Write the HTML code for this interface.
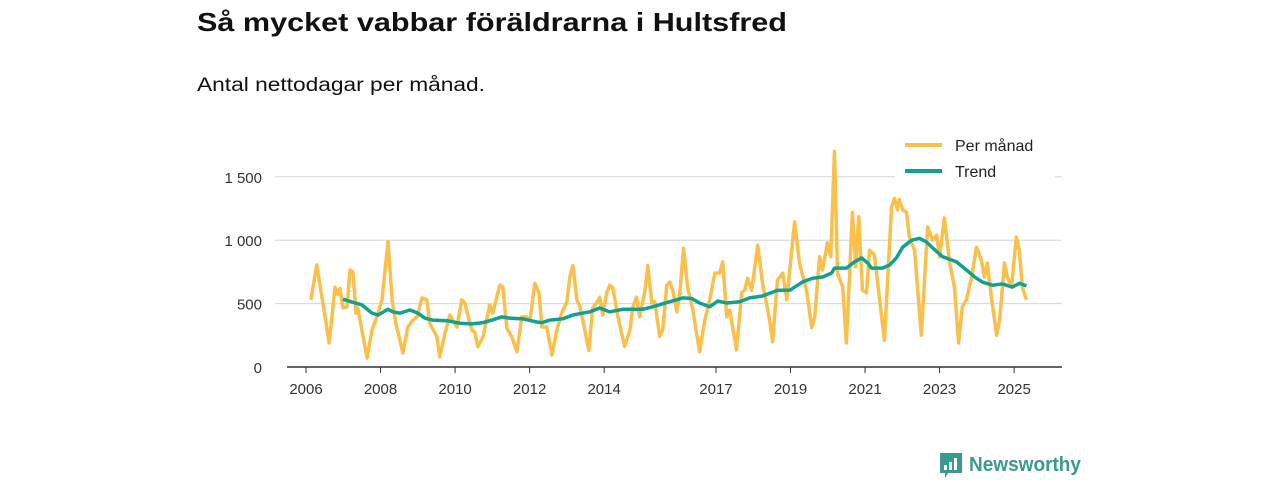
<!DOCTYPE html>
<html><head><meta charset="utf-8"><style>
html,body{margin:0;padding:0;background:#fff;}
svg{display:block;font-family:"Liberation Sans",sans-serif;}
</style></head><body>
<svg id="chart" width="1280" height="480" viewBox="0 0 1280 480">
<text x="197" y="31" font-size="26" font-weight="bold" fill="#111" textLength="590" lengthAdjust="spacingAndGlyphs">Så mycket vabbar föräldrarna i Hultsfred</text>
<text x="197" y="91" font-size="19" fill="#111" textLength="288" lengthAdjust="spacingAndGlyphs">Antal nettodagar per månad.</text>
<g id="grid"></g>
<g id="series"></g>
<g id="axes"></g>
<g>
<rect x="895" y="130" width="160" height="55" fill="#fff"/>
<line x1="905" y1="145" x2="942" y2="145" stroke="#f9c04c" stroke-width="4"/>
<text x="955" y="151" font-size="16" fill="#222">Per månad</text>
<line x1="905" y1="171" x2="942" y2="171" stroke="#13a091" stroke-width="4"/>
<text x="955" y="177" font-size="16" fill="#222">Trend</text>
</g>
<g>
<path d="M940 453 h22 v20 h-14 l-3 5 v-5 h-5 z" fill="#3a9a8c"/>
<rect x="944" y="465" width="3" height="5" fill="#fff"/>
<rect x="949" y="462" width="3" height="8" fill="#fff"/>
<rect x="954" y="458" width="3" height="12" fill="#fff"/>
<text x="969" y="471" font-size="20" font-weight="bold" fill="#3a9a8c" textLength="112" lengthAdjust="spacingAndGlyphs">Newsworthy</text>
</g>
</svg>
<script>
const yTicks=[0,500,1000,1500];
const yTickLabels=["0","500","1 000","1 500"];
const xTicks=[2006,2008,2010,2012,2014,2017,2019,2021,2023,2025];
const monthDates=[2006.13,2006.29,2006.62,2006.78,2006.86,2006.91,2006.99,2007.10,2007.18,2007.26,2007.34,2007.39,2007.50,2007.64,2007.77,2007.90,2008.04,2008.20,2008.31,2008.41,2008.60,2008.73,2008.87,2008.98,2009.11,2009.24,2009.32,2009.51,2009.59,2009.73,2009.86,2009.94,2010.05,2010.18,2010.26,2010.45,2010.53,2010.61,2010.75,2010.93,2011.01,2011.20,2011.28,2011.39,2011.52,2011.66,2011.79,2011.92,2012.01,2012.14,2012.25,2012.33,2012.46,2012.60,2012.73,2012.86,2013.00,2013.08,2013.16,2013.27,2013.35,2013.48,2013.59,2013.69,2013.80,2013.88,2013.96,2014.07,2014.15,2014.23,2014.37,2014.55,2014.69,2014.77,2014.87,2014.95,2015.09,2015.17,2015.28,2015.36,2015.49,2015.57,2015.68,2015.76,2015.84,2015.95,2016.03,2016.13,2016.24,2016.38,2016.56,2016.70,2016.83,2016.97,2017.10,2017.18,2017.29,2017.37,2017.55,2017.69,2017.77,2017.85,2017.96,2018.12,2018.25,2018.44,2018.52,2018.65,2018.79,2018.90,2019.11,2019.24,2019.43,2019.57,2019.65,2019.78,2019.86,2019.99,2020.08,2020.18,2020.26,2020.40,2020.50,2020.66,2020.75,2020.83,2020.93,2021.04,2021.12,2021.25,2021.33,2021.52,2021.71,2021.79,2021.87,2021.92,2022.01,2022.11,2022.19,2022.33,2022.51,2022.68,2022.81,2022.92,2023.00,2023.13,2023.27,2023.40,2023.51,2023.61,2023.72,2023.86,2023.99,2024.12,2024.20,2024.28,2024.39,2024.53,2024.61,2024.74,2024.82,2024.93,2025.06,2025.14,2025.22,2025.33];
const monthValues=[530,805,190,630,570,620,465,475,765,750,425,465,290,70,290,395,530,990,530,345,110,315,370,395,545,530,345,240,80,270,410,370,315,530,505,290,275,160,235,490,425,645,630,305,240,120,395,395,370,660,585,315,315,95,290,425,515,710,800,530,475,290,130,465,505,550,410,585,645,625,395,160,290,475,550,395,590,800,505,515,240,290,645,670,605,435,585,935,625,450,120,370,530,740,740,830,395,450,135,585,605,700,605,960,660,370,200,685,740,530,1145,820,605,310,395,870,765,980,870,1700,740,630,190,1220,790,1185,605,585,920,885,685,210,1260,1330,1240,1320,1240,1220,1025,920,250,1105,1000,1040,870,1175,820,625,190,475,530,710,945,845,710,820,550,250,370,820,710,630,1025,920,630,530];
const trendDates=[2006.99,2007.26,2007.50,2007.77,2007.93,2008.20,2008.33,2008.52,2008.79,2009.00,2009.19,2009.40,2009.78,2010.13,2010.45,2010.75,2010.99,2011.25,2011.47,2011.82,2012.19,2012.33,2012.54,2012.89,2013.16,2013.61,2013.88,2014.15,2014.50,2015.03,2015.30,2015.76,2016.11,2016.35,2016.56,2016.83,2017.05,2017.29,2017.64,2017.90,2018.25,2018.65,2018.98,2019.32,2019.59,2019.86,2020.10,2020.18,2020.50,2020.72,2020.91,2021.07,2021.17,2021.47,2021.66,2021.84,2022.01,2022.25,2022.46,2022.65,2022.81,2023.08,2023.45,2023.72,2023.94,2024.15,2024.42,2024.69,2024.95,2025.14,2025.33];
const trendValues=[535,510,490,425,410,455,435,425,450,425,385,370,365,345,340,350,370,395,385,380,355,350,370,380,410,435,465,435,455,455,475,515,545,540,505,475,520,505,515,545,560,605,605,670,700,710,740,780,780,830,860,820,780,780,805,860,945,1000,1015,985,940,870,830,765,710,670,645,655,630,660,640];
const NS="http://www.w3.org/2000/svg";
const x0=306,pxPerYear=37.27,yBase=367,pxPerUnit=0.1268;
function xs(t){return x0+(t-2006)*pxPerYear;}
function ys(v){return yBase-v*pxPerUnit;}
function mk(tag,attrs,parent){const e=document.createElementNS(NS,tag);for(const k in attrs)e.setAttribute(k,attrs[k]);parent.appendChild(e);return e;}
const grid=document.getElementById('grid'),axes=document.getElementById('axes'),series=document.getElementById('series');
yTicks.forEach((v,i)=>{
 if(v>0){const g=mk('line',{x1:275,x2:1062,y1:ys(v),y2:ys(v),stroke:'#d6d6d6','stroke-width':1},grid);
 
 }
 const t=mk('text',{x:262,y:ys(v)+6,'font-size':15,fill:'#333','text-anchor':'end'},axes);
 t.textContent=yTickLabels[i];
 
 
});
const ax=mk('line',{x1:287,x2:1062,y1:yBase,y2:yBase,stroke:'#333','stroke-width':1.5},axes);


xTicks.forEach(yr=>{
 mk('line',{x1:xs(yr),x2:xs(yr),y1:yBase,y2:yBase+6,stroke:'#333','stroke-width':1},axes);
 const t=mk('text',{x:xs(yr),y:yBase+27,'font-size':15,fill:'#333','text-anchor':'middle'},axes);
 t.textContent=String(yr);
 
 
});
const p1=mk('polyline',{points:monthDates.map((d,i)=>xs(d)+','+ys(monthValues[i])).join(' '),fill:'none',stroke:'#f9c04c','stroke-width':3.5,'stroke-linejoin':'round'},series);


const p2=mk('polyline',{points:trendDates.map((d,i)=>xs(d)+','+ys(trendValues[i])).join(' '),fill:'none',stroke:'#13a091','stroke-width':3.5,'stroke-linejoin':'round'},series);


</script>
</body></html>
